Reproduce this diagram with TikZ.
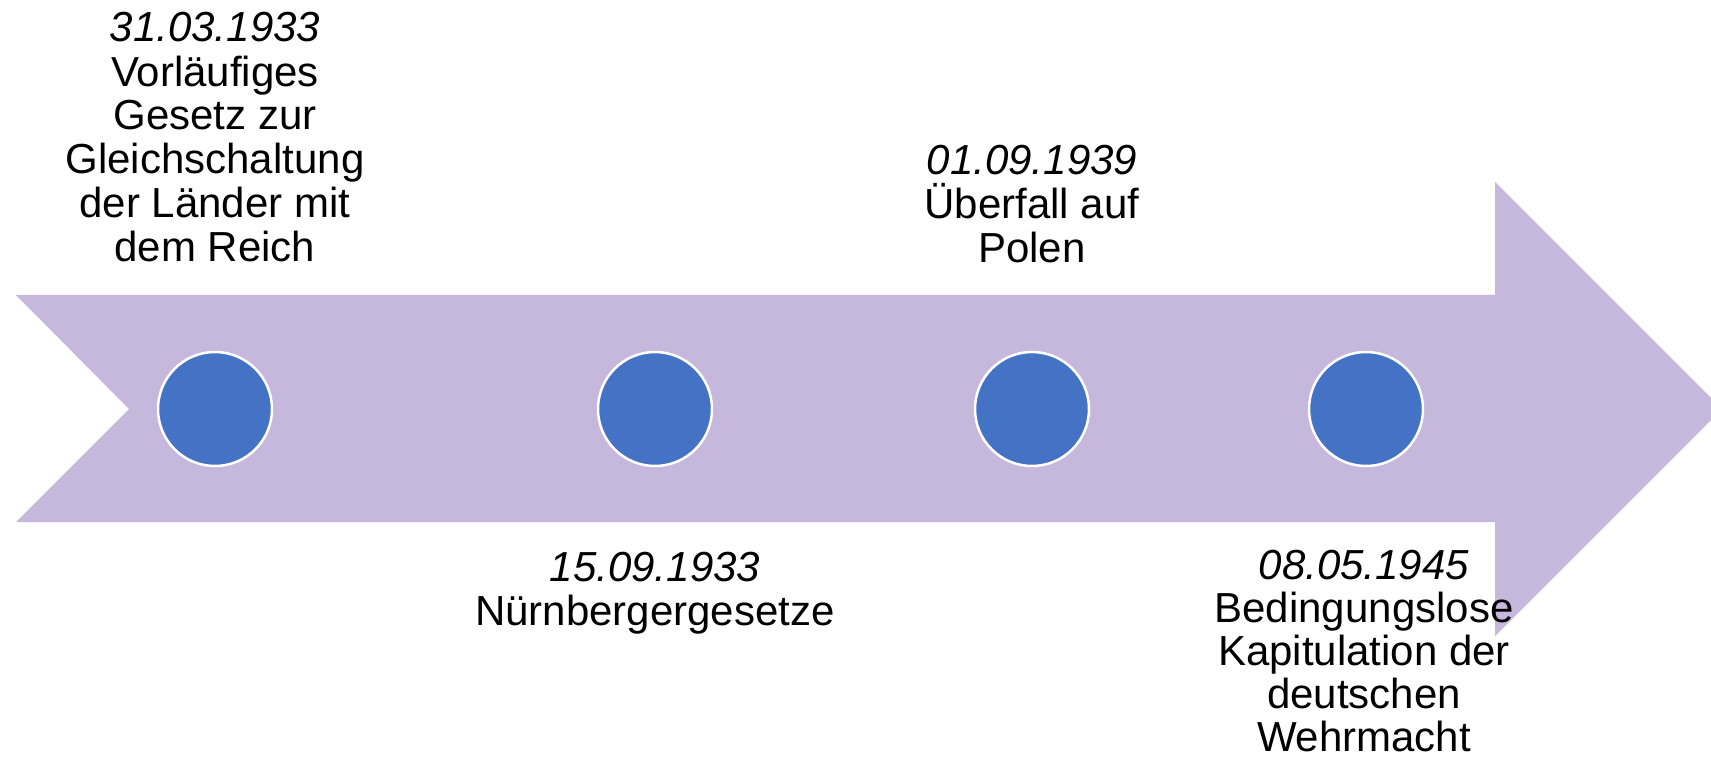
\documentclass[tikz,border=0pt]{standalone}
\usepackage{fontspec}
\setmainfont{Liberation Sans}
\definecolor{arrowfill}{RGB}{198,184,220}
\definecolor{dotblue}{RGB}{68,114,196}
\begin{document}
\begin{tikzpicture}[x=1pt,y=-1pt,
  dot/.style={circle,fill=dotblue,draw=white,line width=2.5pt,minimum size=114pt,inner sep=0pt},
  evlabel/.style={align=center,anchor=base,inner sep=0pt,font=\fontsize{42}{44}\selectfont}]
\clip (0,0) rectangle (1711,759);
\fill[white] (0,0) rectangle (1711,759);
\fill[arrowfill] (16,295) -- (1495,295) -- (1495,182) -- (1722,409) -- (1495,636) -- (1495,522) -- (16,522) -- (129,409) -- cycle;
\node[dot] (d1) at (215,409) {};
\node[dot] (d2) at (655,409) {};
\node[dot] (d3) at (1032,409) {};
\node[dot] (d4) at (1366,409) {};
\node[evlabel] (t1) at (215,262) {\textit{31.03.1933}\\Vorläufiges\\Gesetz zur\\Gleichschaltung\\der Länder mit\\dem Reich};
\node[evlabel] (t2) at (655,625) {\textit{15.09.1933}\\Nürnbergergesetze};
\node[evlabel] (t3) at (1032,263) {\textit{01.09.1939}\\Überfall auf\\Polen};
\node[evlabel,font=\fontsize{42}{43}\selectfont] (t4) at (1364,751) {\textit{08.05.1945}\\Bedingungslose\\Kapitulation der\\deutschen\\Wehrmacht};
\end{tikzpicture}
\end{document}
